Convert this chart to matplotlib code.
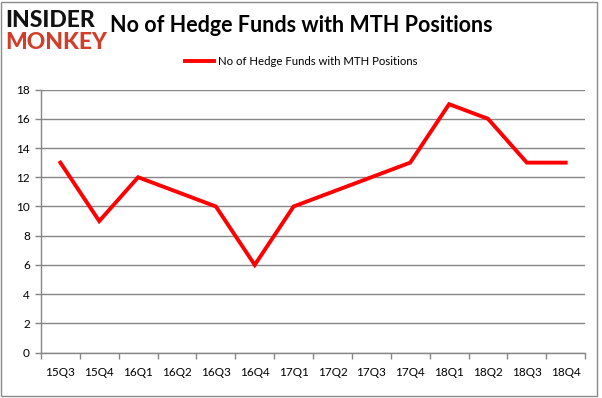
import matplotlib
matplotlib.use("Agg")
import matplotlib.pyplot as plt
from matplotlib.patches import Rectangle

quarters = ["15Q3", "15Q4", "16Q1", "16Q2", "16Q3", "16Q4", "17Q1",
            "17Q2", "17Q3", "17Q4", "18Q1", "18Q2", "18Q3", "18Q4"]
hedge_funds = [13, 9, 12, 11, 10, 6, 10, 11, 12, 13, 17, 16, 13, 13]
y_ticks = [0, 2, 4, 6, 8, 10, 12, 14, 16, 18]

GRID = "#868686"
FONT = ["Lato", "DejaVu Sans"]

fig = plt.figure(figsize=(6.02, 3.98), dpi=100)
ax = fig.add_axes([0.068, 0.114, 0.904, 0.661])

x = list(range(len(quarters)))
ax.plot(x, hedge_funds, color="#ff0000", linewidth=2.8,
        label="No of Hedge Funds with MTH Positions", solid_joinstyle="miter")

ax.set_xlim(-0.5, len(quarters) - 0.5)
ax.set_ylim(0, 18)
ax.set_yticks(y_ticks)
ax.set_yticklabels([str(v) for v in y_ticks], fontsize=8.5, family=FONT)
ax.set_xticks([i - 0.5 for i in range(len(quarters) + 1)])
ax.set_xticklabels([])
ax.set_xticks(x, minor=True)
ax.set_xticklabels(quarters, minor=True, fontsize=8.5, family=FONT)
ax.tick_params(axis="x", which="major", length=4, color=GRID, width=1)
ax.tick_params(axis="x", which="minor", length=0, pad=10)
ax.tick_params(axis="y", length=4, color=GRID, width=1, pad=4)

ax.grid(axis="y", color=GRID, linewidth=1)
ax.set_axisbelow(True)
for side in ["top", "right"]:
    ax.spines[side].set_visible(False)
for side in ["left", "bottom"]:
    ax.spines[side].set_color(GRID)
    ax.spines[side].set_linewidth(1)

fig.legend(loc="center", bbox_to_anchor=(0.5, 0.845), frameon=False,
           prop={"family": FONT, "size": 8.2}, handlelength=2.6, handletextpad=0.3)

fig.text(0.5, 0.935, "No of Hedge Funds with MTH Positions", ha="center", va="center",
         fontsize=15.5, fontweight="bold", family=FONT)

# logo
fig.text(0.008, 0.9485, "INSIDER", ha="left", va="center", fontsize=16.5,
         fontweight="black", family=FONT, color="#111111")
fig.text(0.008, 0.892, "MONKEY", ha="left", va="center", fontsize=16.5,
         fontweight="black", family=FONT, color="#d13f2a")

fig.patches.append(Rectangle((0.002, 0.004), 0.99, 0.99, transform=fig.transFigure,
                             fill=False, edgecolor="#8a8a8a", linewidth=1))

fig.savefig("out.png", dpi=100)
